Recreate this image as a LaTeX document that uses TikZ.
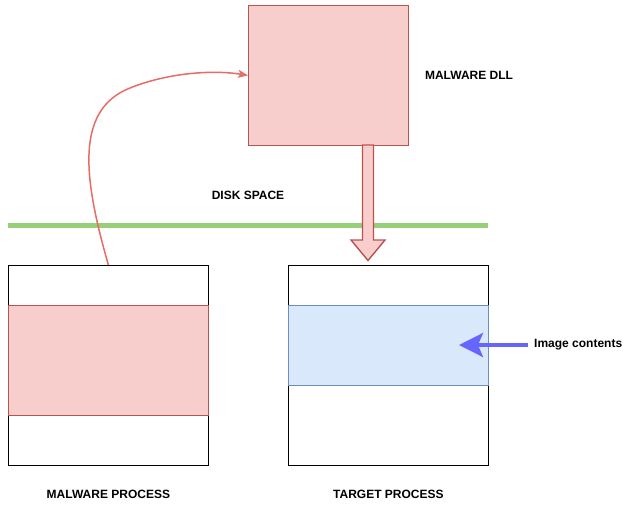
\documentclass[tikz,border=0pt]{standalone}
\usepackage{fontspec}
\setmainfont{Liberation Sans}
\usetikzlibrary{arrows.meta, positioning}
\definecolor{redfill}{HTML}{F8CECC}
\definecolor{redline}{HTML}{B85450}
\definecolor{bluefill}{HTML}{DAE8FC}
\definecolor{blueline}{HTML}{6C8EBF}
\definecolor{diskgreen}{HTML}{97D077}
\definecolor{curvered}{HTML}{EA6B66}
\definecolor{pointblue}{HTML}{6666FF}

\begin{document}
\begin{tikzpicture}[
  x=1pt, y=-1pt,
  every node/.style={font=\fontsize{12}{14}\selectfont\bfseries},
  box/.style={draw, anchor=north west, inner sep=0pt, line width=0.8pt},
  procbox/.style={box, draw=black, fill=white, minimum width=200pt, minimum height=200pt},
  redbox/.style={box, draw=redline, fill=redfill},
  bluebox/.style={box, draw=blueline, fill=bluefill},
  label/.style={inner sep=0pt},
  curve/.style={-{Stealth[length=10pt, width=8pt, inset=2.5pt]}, line width=1.5pt, color=curvered},
  pointer/.style={-{Stealth[length=24pt, width=24pt, inset=5pt]}, line width=3.5pt, color=pointblue},
  blockarrow/.style={draw=redline, fill=redfill, line width=1.4pt, line join=miter},
]
\useasboundingbox (0,0) rectangle (634,511);

% Malware DLL on disk
\node[redbox, minimum width=160pt, minimum height=140pt] (dll) at (248,5) {};
\node[label, right=16pt of dll] (dlllabel) {MALWARE DLL};
\node[label] (disklabel) at (248,195) {DISK SPACE};

% Disk boundary
\coordinate (diskleft) at (8,225.5);
\coordinate (diskright) at (488,225.5);
\draw[diskgreen, line width=5pt] (diskleft) -- (diskright);

% Malware process
\node[procbox] (malproc) at (8,265) {};
\node[redbox, minimum width=200pt, minimum height=110pt] (malsect) at (8,305) {};
\node[label, below=24pt of malproc] (mallabel) {MALWARE PROCESS};

% Target process
\node[procbox] (target) at (288,265) {};
\node[bluebox, minimum width=200pt, minimum height=80pt] (image) at (288,305) {};
\node[label, below=24pt of target] (targetlabel) {TARGET PROCESS};
\node[label, anchor=west] (imglabel) at (534,345) {Image contents};

% Block arrow: DLL into target
\coordinate (tip) at (368,260.5);
\draw[blockarrow] (362.5,145) -- (362.5,240) -- (351,240) -- (tip)
  -- (385,240) -- (373.5,240) -- (373.5,145) -- cycle;

% Arrows
\coordinate (imgtip) at (459,345);
\draw[curve] (malproc.north) .. controls (84,180) and (74,110) .. (130,88)
  .. controls (170,72) and (215,70) .. (dll.west);
\draw[pointer] ([xshift=-6pt]imglabel.west) -- (imgtip);

\end{tikzpicture}
\end{document}
